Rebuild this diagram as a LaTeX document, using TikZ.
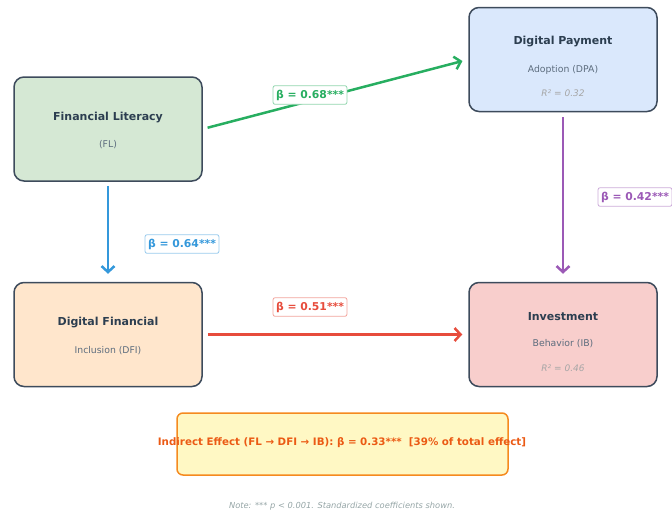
\documentclass[tikz,border=0pt]{standalone}
\usepackage{fontspec}
\setmainfont{DejaVu Sans}
\usetikzlibrary{arrows.meta}

\definecolor{boxedge}{HTML}{3D4B5C}
\definecolor{titletext}{HTML}{2C3E50}
\definecolor{subtext}{HTML}{5D6D7E}
\definecolor{rsqtext}{HTML}{A6A6A6}
\definecolor{flfill}{HTML}{D5E8D4}
\definecolor{dpafill}{HTML}{DAE8FC}
\definecolor{dfifill}{HTML}{FFE6CC}
\definecolor{ibfill}{HTML}{F8CECC}
\definecolor{pgreen}{HTML}{27AE60}
\definecolor{pblue}{HTML}{3498DB}
\definecolor{pred}{HTML}{E74C3C}
\definecolor{ppurple}{HTML}{9B59B6}
\definecolor{indfill}{HTML}{FFF8C4}
\definecolor{indedge}{HTML}{F58A1F}
\definecolor{indtext}{HTML}{EB5A14}
\definecolor{notetext}{HTML}{95A5A6}

\tikzset{
  varbox/.style={draw=boxedge, line width=1.5pt, rounded corners=10pt,
    minimum width=188pt, minimum height=104pt},
  vartitle/.style={text=titletext, font=\fontsize{11}{13}\selectfont\bfseries},
  varsub/.style={text=subtext, font=\fontsize{9.3}{11}\selectfont},
  rsq/.style={text=rsqtext, font=\fontsize{9}{11}\selectfont\itshape},
  effarrow/.style={line width=2.5pt, -{Straight Barb[length=6pt,width=13pt]}},
  betabox/.style={fill=white, draw=#1!50, text=#1, rounded corners=2pt,
    line width=0.8pt, inner xsep=3pt, inner ysep=4pt,
    font=\fontsize{10.8}{12}\selectfont\bfseries}
}

\begin{document}
\begin{tikzpicture}[x=1pt, y=-1pt]

  \useasboundingbox (0,0) rectangle (672,514);

  % variable boxes
  \node[varbox, fill=flfill] (fl) at (108,129) {};
  \node[vartitle] (flT) at (108,118) {Financial Literacy};
  \node[varsub] (flS) at (108,145) {(FL)};

  \node[varbox, fill=dpafill] (dpa) at (563,59.5) {};
  \node[vartitle] (dpaT) at (563,42) {Digital Payment};
  \node[varsub] (dpaS) at (563,70) {Adoption (DPA)};
  \node[rsq] (dpaR) at (563,93) {R² = 0.32};

  \node[varbox, fill=dfifill] (dfi) at (108,334.5) {};
  \node[vartitle] (dfiT) at (108,323) {Digital Financial};
  \node[varsub] (dfiS) at (108,351) {Inclusion (DFI)};

  \node[varbox, fill=ibfill] (ib) at (563,334.5) {};
  \node[vartitle] (ibT) at (563,317) {Investment};
  \node[varsub] (ibS) at (563,344) {Behavior (IB)};
  \node[rsq] (ibR) at (563,368) {R² = 0.46};

  % paths
  \draw[effarrow, pgreen, shorten <=5pt, shorten >=6pt] (fl.east) -- (dpa.west);
  \draw[effarrow, pblue, shorten <=4pt, shorten >=8pt] (fl.south) -- (dfi.north);
  \draw[effarrow, pred, shorten <=5pt, shorten >=6pt] (dfi.east) -- (ib.west);
  \draw[effarrow, ppurple, shorten <=5pt, shorten >=8pt] (dpa.south) -- (ib.north);

  \node[betabox=pgreen] (bGreen) at (310,95) {β = 0.68***};
  \node[betabox=pblue] (bBlue) at (182,244) {β = 0.64***};
  \node[betabox=pred] (bRed) at (310,307) {β = 0.51***};
  \node[betabox=ppurple] (bPurple) at (635,197) {β = 0.42***};

  % indirect effect
  \node[fill=indfill, draw=indedge, line width=1.5pt, rounded corners=6pt,
    minimum width=331pt, minimum height=62pt] (ind) at (342.5,444) {};
  \node[text=indtext, font=\fontsize{10.3}{12}\selectfont\bfseries] (indT) at (342,443)
    {Indirect Effect (FL → DFI → IB): β = 0.33***\ \ [39\% of total effect]};

  \node[text=notetext, font=\fontsize{8.3}{10}\selectfont\itshape] (note) at (342,506)
    {Note: *** p < 0.001. Standardized coefficients shown.};

\end{tikzpicture}
\end{document}
